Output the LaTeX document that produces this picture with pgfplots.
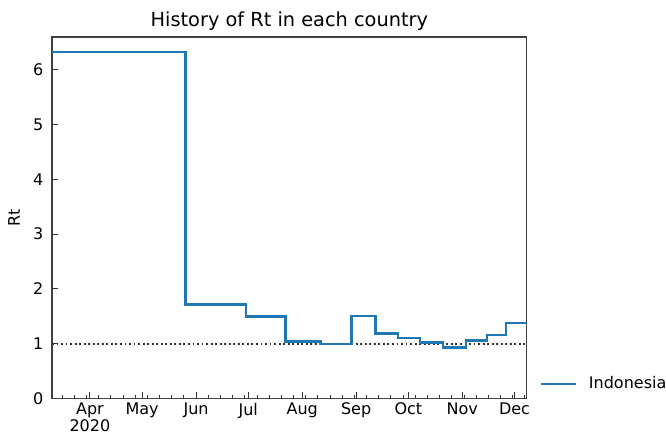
\documentclass[border=0pt]{standalone}
\usepackage{fontspec}
\setmainfont{DejaVu Sans}
\usepackage{pgfplots}
\pgfplotsset{compat=1.18}
\definecolor{tabblue}{HTML}{1F77B4}
\begin{document}
\begin{tikzpicture}
\begin{axis}[
  name=ax,
  scale only axis,
  width=356pt, height=271pt,
  xmin=9.2, xmax=282, ymin=0, ymax=6.6,
  xtick={31,61,92,122,153,184,214,245,275},
  xticklabels={{Apr\\2020},May,Jun,Jul,Aug,Sep,Oct,Nov,Dec},
  minor xtick={15,22,...,281},
  ytick={0,1,2,3,4,5,6},
  x tick label style={align=center, font=\fontsize{12}{11}\selectfont},
  y tick label style={font=\fontsize{12}{14}\selectfont, xshift=-3pt},
  /pgf/number format/assume math mode=true,
  tick align=inside,
  xtick pos=lower, ytick pos=left,
  major tick length=4.5pt, minor tick length=2.5pt,
  every tick/.style={black!80, line width=0.7pt},
  axis line style={black!75, line width=0.8pt},
  title={History of Rt in each country},
  title style={font=\fontsize{14.5}{16}\selectfont, yshift=-5pt},
  ylabel={Rt},
  ylabel style={font=\fontsize{12}{14}\selectfont, yshift=3pt},
  legend style={at={(1.027,0.04)}, anchor=west, draw=none, fill=none, inner xsep=0pt, font=\fontsize{12}{14}\selectfont},
  legend image code/.code={\draw[#1, line width=1.9pt] (0pt,0pt) -- (26pt,0pt); \path (33pt,0pt);},
  legend cell align=left,
]
\addplot[black!80, dotted, line width=1.4pt, forget plot] coordinates {(9.2,1) (282,1)};
\addplot[tabblue, line width=1.9pt, const plot] coordinates {
(9.2,6.33) (86,1.71) (120.6,1.49) (143.3,1.04) (163.4,0.99) (181.2,1.50) (195,1.18) (208,1.10) (220.8,1.02) (233.8,0.93) (247.2,1.06) (259.3,1.16) (270.2,1.38) (282,1.38)};
\addlegendentry{Indonesia}
\end{axis}
\pgfresetboundingbox
\path ([xshift=-39pt,yshift=-27.75pt]ax.south west) rectangle ([xshift=104.5pt,yshift=27.75pt]ax.north east);
\end{tikzpicture}
\end{document}
